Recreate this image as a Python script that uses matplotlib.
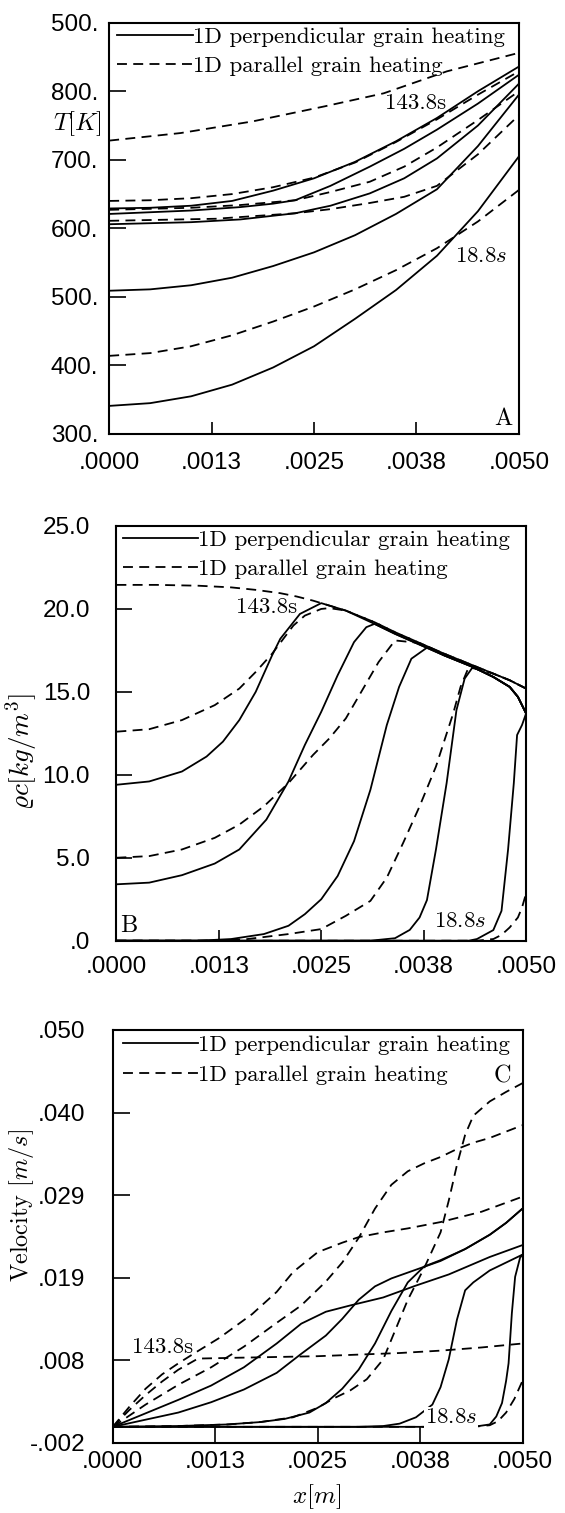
import matplotlib
matplotlib.use("Agg")
import matplotlib.pyplot as plt
from matplotlib.lines import Line2D
from matplotlib.ticker import FixedLocator, FixedFormatter

plt.rcParams['mathtext.fontset'] = 'cm'
plt.rcParams['axes.unicode_minus'] = False

SERIF = 'cmr10'
SANS = 'Liberation Sans'

# ---------------- shared axis data ----------------
x_ticks = [0.0, 0.00125, 0.0025, 0.00375, 0.005]
x_tick_labels = ['.0000', '.0013', '.0025', '.0038', '.0050']
legend_labels = ['1D perpendicular grain heating', '1D parallel grain heating']

# ---------------- panel A : temperature ----------------
T_ticks = [300, 400, 500, 600, 700, 800, 900]
T_tick_labels = ['300.', '400.', '500.', '600.', '700.', '800.', '500.']

a_s1_x = [0, .0005, .001, .0015, .002, .0025, .003, .0035, .004, .0045, .005]
a_s1_T = [341, 345, 355, 372, 397, 428, 468, 510, 560, 625, 705]
a_s2_x = [0, .0005, .001, .0015, .002, .0025, .003, .0035, .004, .0045, .005]
a_s2_T = [509, 511, 517, 528, 545, 565, 590, 621, 657, 720, 795]
a_s3_x = [0, .001, .0016, .00227, .0027, .00318, .0036, .0040, .0045, .005]
a_s3_T = [606, 609, 613, 622, 633, 651, 673, 702, 750, 811]
a_s4_x = [0, .001, .0016, .002, .00227, .0027, .00318, .0036, .0040, .0045, .005]
a_s4_T = [621, 626, 631, 636, 641, 662, 690, 716, 744, 782, 824]
a_s5_x = [0, .0005, .001, .0015, .0020, .0025, .003, .0035, .0040, .0045, .005]
a_s5_T = [629, 630, 633, 640, 655, 673, 697, 727, 761, 800, 836]

a_d1_x = [0, .0005, .001, .0015, .002, .0025, .003, .0035, .004, .0045, .005]
a_d1_T = [414, 418, 428, 444, 464, 486, 511, 539, 571, 610, 656]
a_d2_x = [0, .0013, .00227, .0027, .00318, .0036, .0040, .0045, .005]
a_d2_T = [611, 614, 622, 628, 637, 646, 662, 708, 765]
a_d3_x = [0, .001, .0016, .00227, .0027, .00318, .0036, .0040, .0045, .005]
a_d3_T = [627, 630, 634, 641, 653, 668, 690, 718, 758, 800]
a_d4_x = [0, .0005, .001, .0015, .0020, .0025, .003, .0035, .0040, .0045, .005]
a_d4_T = [640, 641, 644, 650, 660, 674, 696, 726, 759, 795, 829]
a_d5_x = [0, .00087, .00175, .00263, .00335, .00412, .005]
a_d5_T = [728, 739, 756, 778, 797, 829, 856]

# ---------------- panel B : char density ----------------
rho_ticks = [0, 5, 10, 15, 20, 25]
rho_tick_labels = ['.0', '5.0', '10.0', '15.0', '20.0', '25.0']

b_s1_x = [0, .0004, .0008, .0011, .0013, .0015, .0017, .0019, .002, .00224, .0025,
          .0028, .00315, .0034, .0037, .004, .00435, .0046, .0048, .0049, .005]
b_s1_r = [9.4, 9.6, 10.2, 11.1, 12.0, 13.3, 15.0, 17.2, 18.2, 19.7, 20.35,
          19.9, 19.1, 18.5, 17.85, 17.2, 16.5, 15.9, 15.3, 14.7, 13.7]
b_s2_x = [0, .0004, .0008, .0012, .0015, .00183, .0021, .0023, .0025, .0027, .0029, .00305,
          .00315, .0034, .0037, .004, .00435, .0046, .0048, .0049, .005]
b_s2_r = [3.4, 3.5, 3.95, 4.65, 5.5, 7.3, 9.6, 11.8, 13.8, 16.0, 18.0, 18.9,
          19.1, 18.5, 17.85, 17.2, 16.5, 15.9, 15.3, 14.7, 13.7]
b_s3_x = [0, .001, .0014, .0018, .0021, .0023, .0025, .0027, .0029, .0031, .0033, .00345,
          .0036, .0038, .004, .00435, .0046, .0048, .0049, .005]
b_s3_r = [0, 0, 0.1, 0.4, 0.9, 1.6, 2.5, 3.9, 6.0, 9.1, 13.0, 15.3,
          17.0, 17.7, 17.2, 16.5, 15.9, 15.3, 14.7, 13.7]
b_s4_x = [0, .0031, .0034, .00358, .0037, .00379, .0039, .00403, .00415, .00425, .00435,
          .0046, .0048, .0049, .005]
b_s4_r = [0, 0, 0.15, 0.65, 1.4, 2.45, 5.5, 9.5, 13.9, 15.8, 16.5,
          15.9, 15.3, 14.7, 13.7]
b_s5_x = [0, .0043, .0044, .0046, .0047, .00478, .00485, .00489, .00495, .005]
b_s5_r = [0, 0, 0.1, 0.64, 1.8, 5.5, 9.5, 12.4, 13.0, 13.7]

b_d1_x = [0, .0005, .001, .0014, .0017, .002, .0022, .0024, .0026, .0028, .00315,
          .0034, .0037, .004, .00435, .0046, .0048, .005]
b_d1_r = [21.45, 21.45, 21.4, 21.3, 21.15, 20.95, 20.75, 20.5, 20.2, 19.9, 19.2,
          18.6, 17.95, 17.3, 16.6, 16.1, 15.7, 15.2]
b_d2_x = [0, .0004, .0008, .0012, .0015, .0017, .0019, .00216, .0023, .0025, .0026, .0028,
          .00315, .0034, .0037, .004, .00435, .0046, .0048, .005]
b_d2_r = [12.6, 12.75, 13.3, 14.2, 15.2, 16.2, 17.3, 19.0, 19.6, 20.0, 20.05, 19.9,
          19.2, 18.6, 17.95, 17.3, 16.6, 16.1, 15.7, 15.2]
b_d3_x = [0, .0004, .0008, .0012, .0015, .0018, .0021, .0024, .0026, .0028, .003, .0032,
          .0034, .0037, .004, .00435, .0046, .0048, .005]
b_d3_r = [5.0, 5.1, 5.5, 6.2, 7.0, 8.1, 9.5, 11.2, 12.2, 13.4, 15.1, 16.8,
          18.1, 17.95, 17.3, 16.6, 16.1, 15.7, 15.2]
b_d4_x = [0, .0012, .0016, .0021, .0025, .0028, .0031, .0033, .0035, .0037, .0039, .00411,
          .0042, .0043, .0046, .0048, .005]
b_d4_r = [0, 0, 0.1, 0.4, 0.7, 1.5, 2.4, 3.8, 5.9, 8.1, 10.5, 13.7,
          15.3, 16.5, 16.1, 15.7, 15.2]
b_d5_x = [0, .0044, .0046, .0047, .0048, .0049, .00495, .005]
b_d5_r = [0, 0, 0.1, 0.35, 0.8, 1.4, 2.0, 2.85]

# ---------------- panel C : velocity ----------------
v_ticks = [-0.002, 0.0084, 0.0188, 0.0292, 0.0396, 0.050]
v_tick_labels = ['-.002', '.008', '.019', '.029', '.040', '.050']

c_s1_x = [0, .0004, .0008, .0012, .0016, .002, .0023, .0026, .0029, .0033, .0037, .0041, .0046, .005]
c_s1_v = [0, .0017, .0034, .0052, .0075, .0105, .0130, .0145, .0153, .0163, .0178, .0192, .0214, .0229]
c_s2_x = [0, .0004, .0008, .0012, .0016, .002, .0023, .0026, .0028, .003, .0032, .0034,
          .0037, .004, .0043, .0046, .0048, .005]
c_s2_v = [0, .0009, .0018, .0031, .0047, .0068, .0092, .0115, .0136, .0160, .0177, .0187,
          .0198, .0209, .0224, .0242, .0257, .0275]
c_s3_x = [0, .0008, .0014, .0018, .0021, .0024, .0026, .0028, .003, .0032, .0034, .0036,
          .0038, .004, .0043, .0046, .0048, .005]
c_s3_v = [0, .0001, .0003, .0006, .0010, .0018, .0030, .0048, .0072, .0105, .0146, .0182,
          .0202, .0210, .0224, .0242, .0257, .0275]
c_s4_x = [0, .0030, .0033, .0035, .0037, .0039, .004, .0041, .0042, .0043, .0044, .0046, .0048, .005]
c_s4_v = [0, 0, .0001, .0004, .0012, .0028, .0050, .0085, .0135, .0172, .0182, .0197, .0207, .0217]
c_s5_x = [0, .0044, .0046, .00468, .00475, .0048, .00483, .00487, .00491, .00497, .005]
c_s5_v = [0, 0, .0003, .0013, .0030, .0058, .0080, .0143, .0189, .0213, .0217]

c_d1_x = [0, .0002, .0004, .0006, .0008, .00104, .0015, .002, .0025, .003, .0035, .004, .0045, .005]
c_d1_v = [0, .0021, .0040, .0057, .0072, .0086, .0087, .0088, .0089, .0091, .0093, .0096, .0100, .0105]
c_d2_x = [0, .0002, .0004, .0006, .0008, .001, .0013, .0017, .002, .0022, .0025, .0028,
          .003, .0033, .0036, .004, .0045, .005]
c_d2_v = [0, .0025, .0048, .0066, .0080, .0093, .0112, .0142, .0170, .0195, .0220, .0232,
          .0239, .0245, .0250, .0258, .0271, .0290]
c_d3_x = [0, .0004, .0008, .0012, .0016, .002, .0023, .0026, .0028, .003, .0032, .0034,
          .0036, .0038, .004, .0042, .0044, .0046, .0048, .005]
c_d3_v = [0, .0028, .0053, .0075, .0101, .0131, .0153, .0183, .0207, .0238, .0275, .0305,
          .0322, .0332, .0340, .0350, .0358, .0364, .0372, .0380]
c_d4_x = [0, .0008, .0014, .0018, .0022, .0025, .0027, .0029, .0031, .0033, .0035, .0036,
          .0038, .004, .0041, .0042, .0043, .0044, .0046, .0048, .005]
c_d4_v = [0, .0001, .0003, .0006, .0012, .0024, .0036, .0046, .0060, .0085, .0135, .0160,
          .0200, .0245, .0285, .0330, .0368, .0392, .0410, .0422, .0433]
c_d5_x = [0, .0044, .0046, .0047, .0048, .0049, .005]
c_d5_v = [0, 0, .0002, .0007, .0018, .0035, .0058]

A_perp = [(a_s1_x, a_s1_T), (a_s2_x, a_s2_T), (a_s3_x, a_s3_T), (a_s4_x, a_s4_T), (a_s5_x, a_s5_T)]
A_par = [(a_d1_x, a_d1_T), (a_d2_x, a_d2_T), (a_d3_x, a_d3_T), (a_d4_x, a_d4_T), (a_d5_x, a_d5_T)]
B_perp = [(b_s1_x, b_s1_r), (b_s2_x, b_s2_r), (b_s3_x, b_s3_r), (b_s4_x, b_s4_r), (b_s5_x, b_s5_r)]
B_par = [(b_d1_x, b_d1_r), (b_d2_x, b_d2_r), (b_d3_x, b_d3_r), (b_d4_x, b_d4_r), (b_d5_x, b_d5_r)]
C_perp = [(c_s1_x, c_s1_v), (c_s2_x, c_s2_v), (c_s3_x, c_s3_v), (c_s4_x, c_s4_v), (c_s5_x, c_s5_v)]
C_par = [(c_d1_x, c_d1_v), (c_d2_x, c_d2_v), (c_d3_x, c_d3_v), (c_d4_x, c_d4_v), (c_d5_x, c_d5_v)]

W, H = 565, 1513
fig = plt.figure(figsize=(W / 100, H / 100), dpi=100)
fig.patch.set_facecolor('white')

LW = 1.3
DASH = (0, (5.5, 3.5))
TICKFS = 17.5
SERIFFS = 16.5


def px_axes(left, top, right, bottom):
    return fig.add_axes([left / W, 1 - bottom / H, (right - left) / W, (bottom - top) / H])


def style(ax, ylim, yticks, ylabels, ypad, xpad, ylen, xlen):
    ax.set_xlim(0, 0.005)
    ax.set_ylim(*ylim)
    ax.xaxis.set_major_locator(FixedLocator(x_ticks))
    ax.xaxis.set_major_formatter(FixedFormatter(x_tick_labels))
    ax.yaxis.set_major_locator(FixedLocator(yticks))
    ax.yaxis.set_major_formatter(FixedFormatter(ylabels))
    ax.tick_params(axis='y', direction='in', length=ylen, width=1.2, pad=ypad,
                   labelsize=TICKFS, left=True, right=False)
    ax.tick_params(axis='x', direction='in', length=xlen, width=1.2, pad=xpad,
                   labelsize=TICKFS, bottom=True, top=False)
    for lab in ax.get_xticklabels() + ax.get_yticklabels():
        lab.set_fontfamily(SANS)
    for sp in ax.spines.values():
        sp.set_linewidth(1.5)
    ax.minorticks_off()


def draw(ax, perp, par):
    for xs, ys in perp:
        ax.plot(xs, ys, color='black', lw=LW, solid_capstyle='butt', solid_joinstyle='round')
    for xs, ys in par:
        ax.plot(xs, ys, color='black', lw=LW, linestyle=DASH)
    handles = [Line2D([], [], color='black', lw=LW),
               Line2D([], [], color='black', lw=LW, linestyle=DASH)]
    return handles


def legend(ax, handles, xa, ya):
    ax.legend(handles, legend_labels, loc='upper left', bbox_to_anchor=(xa, ya),
              frameon=False, handlelength=3.3, handletextpad=0.0, borderaxespad=0.0,
              borderpad=0.0, labelspacing=0.4,
              prop={'family': SERIF, 'size': SERIFFS})


# ---- A ----
axA = px_axes(109.2, 22.7, 518.9, 434.0)
hA = draw(axA, A_perp, A_par)
style(axA, (300, 900), T_ticks, T_tick_labels, ypad=8, xpad=13, ylen=12, xlen=9)
legend(axA, hA, 0.019, 0.99)
axA.text(0.00337, 782, '143.8s', family=SERIF, fontsize=SERIFFS, va='center', ha='left')
axA.text(0.00422, 560, '18.8$s$', family=SERIF, fontsize=SERIFFS, va='center', ha='left')
axA.text(0.00481, 322, 'A', family=SERIF, fontsize=SERIFFS + 1, va='center', ha='center')
fig.text(77.5 / W, 1 - 124 / H, '$T[K]$', fontsize=18, ha='center', va='center')

# ---- B ----
axB = px_axes(116.4, 526.0, 526.1, 940.7)
hB = draw(axB, B_perp, B_par)
style(axB, (0, 25), rho_ticks, rho_tick_labels, ypad=19, xpad=11, ylen=11.5, xlen=8.2)
legend(axB, hB, 0.015, 0.99)
axB.text(0.00146, 20.1, '143.8s', family=SERIF, fontsize=SERIFFS, va='center', ha='left')
axB.text(0.00387, 1.2, '18.8$s$', family=SERIF, fontsize=SERIFFS, va='center', ha='left')
axB.text(0.00004, 0.25, 'B', family=SERIF, fontsize=SERIFFS + 1, va='bottom', ha='left')
fig.text(22 / W, 1 - 752 / H, r'$\varrho c[kg/m^3]$', fontsize=19.5, rotation=90,
         ha='center', va='center')

# ---- C ----
axC = px_axes(112.8, 1030.0, 522.5, 1442.7)
hC = draw(axC, C_perp, C_par)
style(axC, (-0.002, 0.050), v_ticks, v_tick_labels, ypad=20, xpad=6, ylen=12, xlen=11.4)
legend(axC, hC, 0.024, 0.987)
axC.text(0.00023, 0.0100, '143.8s', family=SERIF, fontsize=SERIFFS, va='center', ha='left')
axC.text(0.00381, 0.0012, '18.8$s$', family=SERIF, fontsize=SERIFFS, va='center', ha='left',
         bbox=dict(facecolor='white', edgecolor='none', pad=0.5))
axC.text(0.00475, 0.0441, 'C', family=SERIF, fontsize=SERIFFS + 1, va='center', ha='center')
fig.text(22 / W, 1 - 1205 / H, 'Velocity $[m/s]$', family=SERIF, fontsize=17.5,
         rotation=90, ha='center', va='center')
fig.text(317 / W, 1 - 1497 / H, '$x[m]$', fontsize=18, ha='center', va='center')

fig.savefig('out.png', dpi=100, facecolor='white')
